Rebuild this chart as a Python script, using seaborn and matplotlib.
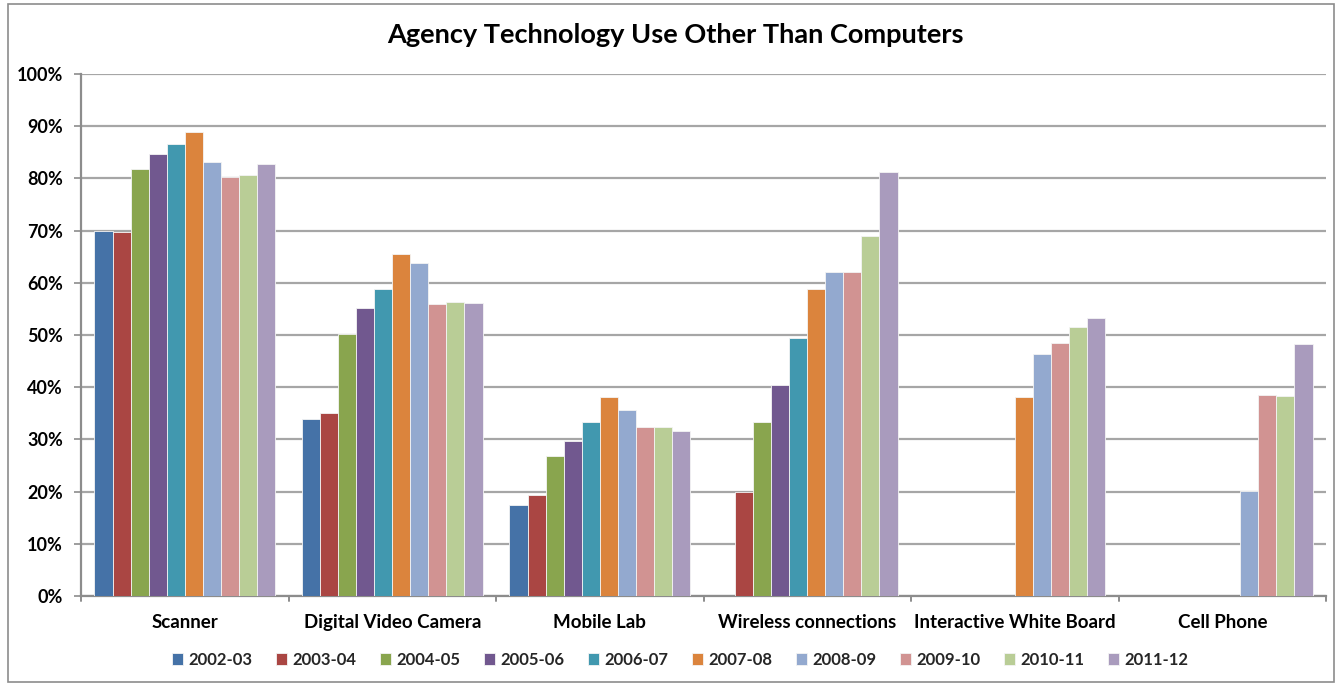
import numpy as np
import pandas as pd
import matplotlib
matplotlib.use("Agg")
import matplotlib.pyplot as plt
from matplotlib.patches import Rectangle
import seaborn as sns

categories = ["Scanner", "Digital Video Camera", "Mobile Lab",
              "Wireless connections", "Interactive White Board", "Cell Phone"]
years = ["2002-03", "2003-04", "2004-05", "2005-06", "2006-07",
         "2007-08", "2008-09", "2009-10", "2010-11", "2011-12"]

nan = np.nan
# percentage of agencies, one list per school year (order follows categories)
y2002_03 = [70.0, 33.9, 17.4, nan, nan, nan]
y2003_04 = [69.7, 35.0, 19.3, 20.0, nan, nan]
y2004_05 = [81.8, 50.1, 26.9, 33.4, nan, nan]
y2005_06 = [84.7, 55.2, 29.7, 40.5, nan, nan]
y2006_07 = [86.6, 58.8, 33.3, 49.4, nan, nan]
y2007_08 = [88.9, 65.6, 38.1, 58.9, 38.1, nan]
y2008_09 = [83.1, 63.8, 35.7, 62.0, 46.4, 20.2]
y2009_10 = [80.2, 55.9, 32.4, 62.1, 48.5, 38.5]
y2010_11 = [80.6, 56.4, 32.3, 69.0, 51.6, 38.3]
y2011_12 = [82.7, 56.2, 31.7, 81.2, 53.2, 48.2]

series = [y2002_03, y2003_04, y2004_05, y2005_06, y2006_07,
          y2007_08, y2008_09, y2009_10, y2010_11, y2011_12]

colors = ["#4572A7", "#AA4643", "#89A54E", "#71588F", "#4198AF",
          "#DB843D", "#93A9CF", "#D19392", "#B9CD96", "#A99BBD"]

rows = []
for yr, vals in zip(years, series):
    for cat, v in zip(categories, vals):
        rows.append({"Category": cat, "Year": yr, "Value": v})
df = pd.DataFrame(rows)

sns.set_theme(style="white")
plt.rcParams["font.family"] = ["Lato", "DejaVu Sans"]

W, H = 1340, 685
fig = plt.figure(figsize=(W / 100, H / 100), dpi=100)
ax = fig.add_axes([81 / W, 1 - 596 / H, 1245 / W, 522 / H])

sns.barplot(data=df, x="Category", y="Value", hue="Year",
            order=categories, hue_order=years, palette=colors,
            width=0.87, edgecolor="#f4f4f4", linewidth=0.6,
            saturation=1, errorbar=None, ax=ax, zorder=3)

ax.set_ylim(0, 100)
ax.set_xlim(-0.5, len(categories) - 0.5)
ax.set_yticks(np.arange(0, 101, 10))
ax.set_yticklabels([f"{t}%" for t in range(0, 101, 10)],
                   fontsize=13, fontweight="bold", color="black")
ax.set_xticks(range(len(categories)))
ax.set_xticklabels(categories, fontsize=13.5, fontweight="bold", color="black")
ax.tick_params(axis="x", length=0, pad=13)
ax.tick_params(axis="y", length=5, width=1.2, color="#8c8c8c",
               direction="out", left=True, pad=8)
ax.set_xlabel("")
ax.set_ylabel("")

# horizontal gridlines
ax.yaxis.grid(True, color="#a6a6a6", linewidth=1.6, zorder=0)
ax.set_axisbelow(True)

for side in ["top", "right"]:
    ax.spines[side].set_visible(False)
for side in ["left", "bottom"]:
    ax.spines[side].set_color("#8c8c8c")
    ax.spines[side].set_linewidth(1.6)

# category separator tick marks on the x axis
for b in np.arange(-0.5, len(categories) + 0.5, 1):
    ax.plot([b, b], [0, -1.0], color="#8c8c8c", lw=1.4,
            clip_on=False, transform=ax.transData)

fig.text(675 / W, 1 - 35 / H, "Agency Technology Use Other Than Computers",
         fontsize=19.5, fontweight="bold", color="black",
         ha="center", va="center")

handles, labels = ax.get_legend_handles_labels()
ax.legend(handles, labels, loc="center",
          bbox_to_anchor=(680 / W, 1 - 660 / H), bbox_transform=fig.transFigure,
          ncol=10, frameon=False, handlelength=0.7,
          handleheight=0.7, handletextpad=0.3, columnspacing=1.4,
          prop={"weight": "bold", "size": 12})

# outer chart border
fig.patches.append(Rectangle((8 / W, 3 / H), 1326 / W, 678 / H,
                             transform=fig.transFigure, fill=False,
                             edgecolor="#8c8c8c", linewidth=1.2))

fig.savefig("out.png", dpi=100, facecolor="white")
